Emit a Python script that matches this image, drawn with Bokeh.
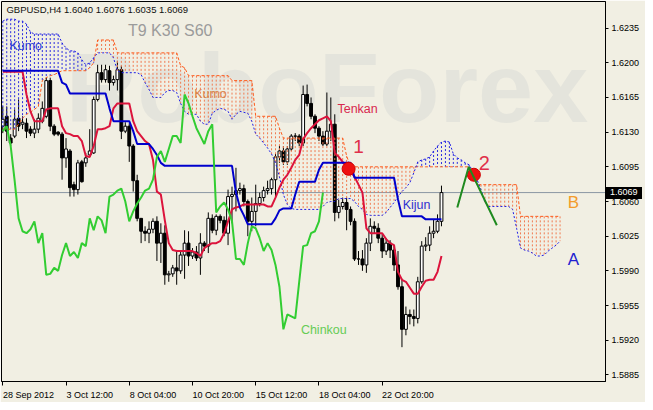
import numpy as np
from bokeh.plotting import figure
from bokeh.models import (Range1d, LinearAxis, FixedTicker, PrintfTickFormatter,
                          Label, Span, ColumnDataSource)
from bokeh.core.properties import value
from bokeh.embed import file_html
from bokeh.resources import INLINE

# ------------------------------------------------------------------ data
chart_title = "GBPUSD,H4  1.6040 1.6076 1.6035 1.6069"
params_text = "T9 K30 S60"
date_labels = ["28 Sep 2012", "3 Oct 12:00", "8 Oct 04:00", "10 Oct 20:00",
               "15 Oct 12:00", "18 Oct 04:00", "22 Oct 20:00"]
date_tick_bars = [0, 16, 32, 48, 64, 80, 96]
price_ticks = [1.5885, 1.5920, 1.5955, 1.5990, 1.6025, 1.6060,
               1.6095, 1.6130, 1.6165, 1.6200, 1.6235]
last_price = 1.6069
kijun_period = 30

opens = [
    1.6136, 1.6146, 1.6124, 1.6126, 1.6144, 1.6138, 1.6139, 1.6133, 1.6129, 1.6133,
    1.6141, 1.6146, 1.6182, 1.6136, 1.6130, 1.6128, 1.6104, 1.6111, 1.6077, 1.6072,
    1.6100, 1.6099, 1.6107, 1.6109, 1.6163, 1.6190, 1.6183, 1.6192, 1.6180, 1.6183,
    1.6193, 1.6131, 1.6136, 1.6116, 1.6081, 1.6043, 1.6030, 1.6028, 1.6032, 1.6040,
    1.6018, 1.6028, 1.5986, 1.5987, 1.5993, 1.5990, 1.6006, 1.6018, 1.6005, 1.6009,
    1.6003, 1.6018, 1.6015, 1.6043, 1.6031, 1.6045, 1.6041, 1.6028, 1.6065, 1.6067,
    1.6071, 1.6073, 1.6060, 1.6040, 1.6050, 1.6058, 1.6064, 1.6071, 1.6073, 1.6082,
    1.6105, 1.6111, 1.6100, 1.6113, 1.6126, 1.6126, 1.6119, 1.6168, 1.6159, 1.6146,
    1.6134, 1.6126, 1.6118, 1.6131, 1.6138, 1.6049, 1.6055, 1.6059, 1.6052, 1.6040,
    1.6002, 1.6002, 1.5996, 1.6018, 1.6035, 1.6033, 1.6023, 1.6010, 1.6018, 1.6011,
    1.5996, 1.5974, 1.5931, 1.5946, 1.5944, 1.5942, 1.5979, 1.6015, 1.6016, 1.6028,
    1.6030, 1.6040]
highs = [
    1.6156, 1.6156, 1.6128, 1.6153, 1.6163, 1.6146, 1.6144, 1.6136, 1.6143, 1.6149,
    1.6161, 1.6185, 1.6185, 1.6138, 1.6131, 1.6130, 1.6124, 1.6113, 1.6080, 1.6102,
    1.6102, 1.6109, 1.6133, 1.6166, 1.6198, 1.6198, 1.6198, 1.6197, 1.6187, 1.6202,
    1.6197, 1.6140, 1.6139, 1.6118, 1.6087, 1.6043, 1.6035, 1.6040, 1.6043, 1.6045,
    1.6038, 1.6036, 1.5990, 1.5996, 1.6011, 1.6010, 1.6031, 1.6030, 1.6013, 1.6015,
    1.6028, 1.6020, 1.6049, 1.6047, 1.6047, 1.6047, 1.6045, 1.6072, 1.6075, 1.6094,
    1.6079, 1.6077, 1.6062, 1.6064, 1.6077, 1.6069, 1.6075, 1.6081, 1.6084, 1.6108,
    1.6116, 1.6116, 1.6116, 1.6128, 1.6129, 1.6128, 1.6177, 1.6178, 1.6165, 1.6148,
    1.6136, 1.6131, 1.6170, 1.6165, 1.6148, 1.6062, 1.6064, 1.6064, 1.6055, 1.6043,
    1.6010, 1.6011, 1.6023, 1.6043, 1.6040, 1.6038, 1.6028, 1.6023, 1.6021, 1.6016,
    1.6010, 1.5982, 1.5954, 1.5951, 1.5951, 1.5984, 1.6020, 1.6024, 1.6035, 1.6042,
    1.6047, 1.6076]
lows = [
    1.6129, 1.6121, 1.6116, 1.6124, 1.6131, 1.6133, 1.6124, 1.6126, 1.6124, 1.6129,
    1.6139, 1.6144, 1.6131, 1.6126, 1.6126, 1.6082, 1.6094, 1.6065, 1.6065, 1.6067,
    1.6079, 1.6095, 1.6105, 1.6108, 1.6161, 1.6180, 1.6180, 1.6172, 1.6177, 1.6172,
    1.6123, 1.6129, 1.6100, 1.6070, 1.6040, 1.6018, 1.6020, 1.6018, 1.6028, 1.6000,
    1.5998, 1.5976, 1.5979, 1.5984, 1.5976, 1.5987, 1.5982, 1.5995, 1.6002, 1.6000,
    1.5986, 1.6010, 1.6008, 1.6028, 1.6026, 1.6038, 1.6025, 1.6016, 1.6038, 1.6050,
    1.6067, 1.6055, 1.6025, 1.6030, 1.6035, 1.6055, 1.6060, 1.6067, 1.6067, 1.6064,
    1.6099, 1.6097, 1.6097, 1.6111, 1.6121, 1.6116, 1.6116, 1.6156, 1.6143, 1.6129,
    1.6121, 1.6116, 1.6116, 1.6121, 1.6040, 1.6043, 1.6052, 1.6031, 1.6036, 1.6000,
    1.5996, 1.5990, 1.5988, 1.6010, 1.6028, 1.6018, 1.6003, 1.6006, 1.6003, 1.5990,
    1.5971, 1.5913, 1.5925, 1.5936, 1.5934, 1.5937, 1.5977, 1.6010, 1.6010, 1.6023,
    1.6028, 1.6035]
closes = [
    1.6143, 1.6131, 1.6119, 1.6143, 1.6136, 1.6140, 1.6131, 1.6129, 1.6133, 1.6144,
    1.6154, 1.6182, 1.6136, 1.6128, 1.6128, 1.6104, 1.6113, 1.6074, 1.6072, 1.6099,
    1.6080, 1.6104, 1.6111, 1.6163, 1.6190, 1.6183, 1.6193, 1.6180, 1.6183, 1.6193,
    1.6131, 1.6136, 1.6116, 1.6081, 1.6043, 1.6030, 1.6028, 1.6032, 1.6040, 1.6018,
    1.6028, 1.5986, 1.5987, 1.5993, 1.5990, 1.6006, 1.6018, 1.6005, 1.6009, 1.6003,
    1.6018, 1.6015, 1.6043, 1.6031, 1.6045, 1.6041, 1.6028, 1.6065, 1.6067, 1.6071,
    1.6073, 1.6060, 1.6040, 1.6050, 1.6058, 1.6064, 1.6071, 1.6073, 1.6082, 1.6105,
    1.6111, 1.6100, 1.6113, 1.6126, 1.6126, 1.6119, 1.6168, 1.6159, 1.6146, 1.6134,
    1.6126, 1.6118, 1.6131, 1.6138, 1.6049, 1.6055, 1.6059, 1.6052, 1.6040, 1.6002,
    1.6002, 1.5996, 1.6018, 1.6035, 1.6033, 1.6023, 1.6010, 1.6018, 1.6011, 1.5996,
    1.5974, 1.5931, 1.5946, 1.5944, 1.5942, 1.5979, 1.6015, 1.6016, 1.6028, 1.6030,
    1.6040, 1.6069]
tenkan = [
    1.6191, 1.6191, 1.6191, 1.6191, 1.6191, 1.6191, 1.6168, 1.6151, 1.6141, 1.6141,
    1.6141, 1.6153, 1.6154, 1.6154, 1.6154, 1.6136, 1.6129, 1.6128, 1.6126, 1.6126,
    1.6121, 1.6106, 1.6105, 1.6116, 1.6133, 1.6133, 1.6134, 1.6136, 1.6154, 1.6159,
    1.6159, 1.6159, 1.6159, 1.6141, 1.6131, 1.6126, 1.6121, 1.6118, 1.6102, 1.6070,
    1.6067, 1.6041, 1.6018, 1.6011, 1.6010, 1.6010, 1.6010, 1.6010, 1.6010, 1.6008,
    1.6005, 1.6013, 1.6016, 1.6018, 1.6018, 1.6020, 1.6028, 1.6040, 1.6052, 1.6054,
    1.6055, 1.6057, 1.6057, 1.6057, 1.6057, 1.6057, 1.6057, 1.6055, 1.6055, 1.6064,
    1.6074, 1.6082, 1.6087, 1.6094, 1.6102, 1.6107, 1.6123, 1.6129, 1.6134, 1.6138,
    1.6142, 1.6144, 1.6146, 1.6141, 1.6109, 1.6105, 1.6100, 1.6095, 1.6090, 1.6085,
    1.6077, 1.6069, 1.6033, 1.6028, 1.6028, 1.6028, 1.6028, 1.6022, 1.6018, 1.6016,
    1.5989, 1.5981, 1.5979, 1.5973, 1.5967, 1.5967, 1.5974, 1.5980, 1.5981, 1.5981,
    1.5989, 1.6005]
kijun = [
    1.6192, 1.6192, 1.6192, 1.6192, 1.6192, 1.6192, 1.6192, 1.6192, 1.6192, 1.6192,
    1.6192, 1.6192, 1.6192, 1.6192, 1.6192, 1.6180, 1.6178, 1.6169, 1.6169, 1.6169,
    1.6169, 1.6169, 1.6169, 1.6169, 1.6169, 1.6169, 1.6169, 1.6154, 1.6141, 1.6141,
    1.6141, 1.6141, 1.6141, 1.6131, 1.6118, 1.6118, 1.6118, 1.6118, 1.6113, 1.6107,
    1.6099, 1.6096, 1.6096, 1.6096, 1.6096, 1.6096, 1.6096, 1.6096, 1.6096, 1.6096,
    1.6096, 1.6096, 1.6096, 1.6096, 1.6096, 1.6096, 1.6096, 1.6096, 1.6096, 1.6069,
    1.6054, 1.6046, 1.6037, 1.6037, 1.6037, 1.6037, 1.6037, 1.6037, 1.6037, 1.6043,
    1.6051, 1.6053, 1.6053, 1.6053, 1.6067, 1.6080, 1.6080, 1.6080, 1.6080, 1.6080,
    1.6092, 1.6099, 1.6099, 1.6099, 1.6099, 1.6099, 1.6099, 1.6099, 1.6099, 1.6084,
    1.6084, 1.6084, 1.6084, 1.6084, 1.6084, 1.6084, 1.6084, 1.6084, 1.6084, 1.6084,
    1.6062, 1.6045, 1.6045, 1.6045, 1.6045, 1.6045, 1.6045, 1.6042, 1.6042, 1.6042,
    1.6042, 1.6042]
senkou_a = [
    1.6242, 1.6244, 1.6244, 1.6244, 1.6242, 1.6242, 1.6239, 1.6231, 1.6229, 1.6229,
    1.6229, 1.6229, 1.6229, 1.6229, 1.6229, 1.6220, 1.6215, 1.6212, 1.6212, 1.6210,
    1.6203, 1.6198, 1.6200, 1.6205, 1.6210, 1.6210, 1.6210, 1.6210, 1.6205, 1.6192,
    1.6190, 1.6190, 1.6190, 1.6190, 1.6190, 1.6188, 1.6180, 1.6173, 1.6165, 1.6165,
    1.6165, 1.6170, 1.6172, 1.6172, 1.6170, 1.6159, 1.6151, 1.6148, 1.6148, 1.6148,
    1.6141, 1.6138, 1.6138, 1.6149, 1.6152, 1.6154, 1.6153, 1.6151, 1.6143, 1.6148,
    1.6151, 1.6150, 1.6149, 1.6141, 1.6128, 1.6124, 1.6119, 1.6114, 1.6108, 1.6099,
    1.6085, 1.6067, 1.6057, 1.6053, 1.6052, 1.6052, 1.6052, 1.6052, 1.6052, 1.6052,
    1.6052, 1.6055, 1.6059, 1.6060, 1.6060, 1.6063, 1.6063, 1.6063, 1.6063, 1.6060,
    1.6055, 1.6052, 1.6047, 1.6046, 1.6046, 1.6046, 1.6046, 1.6049, 1.6054, 1.6059,
    1.6065, 1.6070, 1.6074, 1.6079, 1.6089, 1.6100, 1.6102, 1.6103, 1.6105, 1.6111,
    1.6116, 1.6120, 1.6121, 1.6120, 1.6108, 1.6104, 1.6102, 1.6099, 1.6097, 1.6090,
    1.6082, 1.6072, 1.6059, 1.6055, 1.6055, 1.6055, 1.6055, 1.6055, 1.6055, 1.6052,
    1.6033, 1.6013, 1.6011, 1.6010, 1.6008, 1.6005, 1.6005, 1.6006, 1.6010, 1.6013,
    1.6016, 1.6020]
senkou_b = [
    1.6133, 1.6133, 1.6133, 1.6133, 1.6138, 1.6144, 1.6148, 1.6150, 1.6153, 1.6156,
    1.6182, 1.6185, 1.6187, 1.6188, 1.6190, 1.6192, 1.6192, 1.6192, 1.6192, 1.6192,
    1.6192, 1.6192, 1.6195, 1.6200, 1.6223, 1.6223, 1.6223, 1.6223, 1.6223, 1.6210,
    1.6210, 1.6210, 1.6210, 1.6210, 1.6210, 1.6210, 1.6210, 1.6210, 1.6210, 1.6210,
    1.6210, 1.6210, 1.6210, 1.6210, 1.6210, 1.6197, 1.6195, 1.6187, 1.6187, 1.6187,
    1.6187, 1.6187, 1.6187, 1.6187, 1.6187, 1.6187, 1.6187, 1.6187, 1.6182, 1.6182,
    1.6182, 1.6182, 1.6182, 1.6182, 1.6146, 1.6146, 1.6146, 1.6146, 1.6146, 1.6146,
    1.6134, 1.6124, 1.6124, 1.6124, 1.6124, 1.6124, 1.6124, 1.6124, 1.6124, 1.6124,
    1.6124, 1.6124, 1.6124, 1.6124, 1.6124, 1.6124, 1.6124, 1.6106, 1.6095, 1.6095,
    1.6095, 1.6095, 1.6095, 1.6095, 1.6095, 1.6095, 1.6095, 1.6095, 1.6095, 1.6095,
    1.6095, 1.6095, 1.6095, 1.6095, 1.6095, 1.6095, 1.6095, 1.6095, 1.6095, 1.6095,
    1.6095, 1.6095, 1.6095, 1.6095, 1.6095, 1.6095, 1.6095, 1.6095, 1.6095, 1.6087,
    1.6077, 1.6077, 1.6077, 1.6077, 1.6077, 1.6077, 1.6077, 1.6077, 1.6077, 1.6077,
    1.6077, 1.6045, 1.6045, 1.6045, 1.6045, 1.6045, 1.6045, 1.6045, 1.6045, 1.6045,
    1.6045, 1.6045]
signal_bars = [87.5, 119.2]
signal_prices = [1.6093, 1.6087]
pattern_bars = [115.0, 117.9, 125.0]
pattern_prices = [1.6054, 1.6095, 1.6036]

# ------------------------------------------------------------------ style
BG = "#F1EFE3"
FONT = "Liberation Sans"


def at(xpx, ypx):
    """reference-pixel position -> (bar, price) for text placement"""
    return (xpx - 3.3) / 4.0, 1.6235 - (ypx - 29.3) / 10170.0


# black box with the current price on the price scale (outside the frame, via CSS)
box_top = round(1 + (1.626184 - last_price) / (1.626184 - 1.587836) * 382 - 6)
price_box_css = (
    ":host::after { content: '%s'; position: absolute; left: 606px; top: %dpx;"
    " height: 12px; line-height: 12px; padding: 0 4px; background: #000; color: #fff;"
    " font: 9px 'Liberation Sans', sans-serif; pointer-events: none; }"
    % (f"{last_price:.4f}", box_top)
)

p = figure(width=645, height=402,
           x_range=Range1d(-0.325, 152.5), y_range=Range1d(1.587836, 1.626184),
           x_axis_type=None, y_axis_type=None,
           output_backend="svg", toolbar_location=None,
           min_border_left=1, min_border_top=1, min_border_right=40, min_border_bottom=18,
           background_fill_color=BG, border_fill_color=BG,
           outline_line_color="black", outline_line_width=1)
p.stylesheets = [price_box_css]

# axes
label_offsets = [6.5, 6.0, 6.0, 6.5, 6.5, 6.5, 6.5]
label_pos = [b + o for b, o in zip(date_tick_bars, label_offsets)]
xaxis = LinearAxis(ticker=FixedTicker(ticks=label_pos, minor_ticks=date_tick_bars),
                   major_label_overrides={pos: t for pos, t in zip(label_pos, date_labels)},
                   major_tick_in=0, major_tick_out=0, minor_tick_in=0, minor_tick_out=4,
                   minor_tick_line_color="black", axis_line_color="black",
                   major_label_standoff=4, major_label_text_font=FONT,
                   major_label_text_font_size="9px", major_label_text_color="black")
p.add_layout(xaxis, "below")
yaxis = LinearAxis(ticker=FixedTicker(ticks=price_ticks, minor_ticks=[]),
                   formatter=PrintfTickFormatter(format="%.4f"),
                   major_tick_in=0, major_tick_out=3, major_tick_line_color="black",
                   axis_line_color="black", major_label_standoff=3,
                   major_label_text_font=FONT, major_label_text_font_size="9px",
                   major_label_text_color="black")
p.add_layout(yaxis, "right")

# watermark
wx, wy = at(67, 90)
p.text(x=[wx], y=[wy], text=["RoboForex"], text_font=value(FONT), text_font_style="bold",
       text_font_size=value("99px"), text_color="#E4E4DC", text_baseline="alphabetic",
       text_align="left")

# current price line
p.add_layout(Span(location=last_price, dimension="width", line_color="#8A96A3",
                  line_width=1, level="underlay"))

# candles
bars = np.arange(len(closes))
o = np.array(opens)
c = np.array(closes)
src = ColumnDataSource(dict(x=bars, high=highs, low=lows,
                            top=np.maximum(o, c), bottom=np.minimum(o, c),
                            fill=np.where(c >= o, "white", "black")))
p.segment(x0="x", y0="high", x1="x", y1="low", source=src, line_color="black", line_width=1)
p.vbar(x="x", width=0.72, top="top", bottom="bottom", fill_color="fill",
       line_color="black", line_width=1, source=src)

# cloud hatch
cx = np.arange(len(senkou_a))
a = np.array(senkou_a)
b = np.array(senkou_b)
blue = a > b
orng = ~blue
p.segment(x0=cx[blue], y0=a[blue], x1=cx[blue], y1=b[blue],
          line_color="#2B2BE0", line_width=1, line_dash="2 2")
p.segment(x0=cx[orng], y0=b[orng], x1=cx[orng], y1=a[orng],
          line_color="#F07A50", line_width=1, line_dash="2 2")
p.line(cx, senkou_b, line_color="#FF5A1A", line_width=1, line_dash="3 2")
p.line(cx, senkou_a, line_color="#1E1EE6", line_width=1, line_dash="2 2")

# ichimoku lines
p.line(bars, tenkan, line_color="#DC143C", line_width=2)
p.line(bars, kijun, line_color="#0000CD", line_width=2)
p.line(bars[kijun_period:] - kijun_period, c[kijun_period:], line_color="#32CD32", line_width=2)

# signals
p.scatter(signal_bars, signal_prices, size=13, fill_color="#EE1111", line_color="#D00000")
p.line(pattern_bars, pattern_prices, line_color="#1F8A1F", line_width=2)


def add_label(text, xpx, ypx, color, size, style="normal"):
    x, y = at(xpx, ypx)
    p.add_layout(Label(x=x, y=y, text=text, text_color=color, text_font=FONT,
                       text_font_size=f"{size}px", text_font_style=style,
                       text_baseline="middle", text_align="left"))


add_label(chart_title, 7, 10.5, "#101010", 9.5)
add_label(params_text, 130, 32, "#9B9B9B", 16)
add_label("Kumo", 10, 48, "#2B3BD6", 12.5)
add_label("Kumo", 197, 97, "#D9834A", 12.5)
add_label("Tenkan", 342, 112, "#D8284E", 12.5)
add_label("1", 358, 151, "#E0304A", 19)
add_label("2", 485, 168, "#E0304A", 20)
add_label("Kijun", 408, 211, "#3030D0", 12.5)
add_label("Chinkou", 305, 339, "#66CC55", 12.5)
add_label("B", 575, 208, "#F39C2B", 17)
add_label("A", 575, 267, "#2020D0", 17)

open("out.html", "w").write(file_html(p, INLINE))
